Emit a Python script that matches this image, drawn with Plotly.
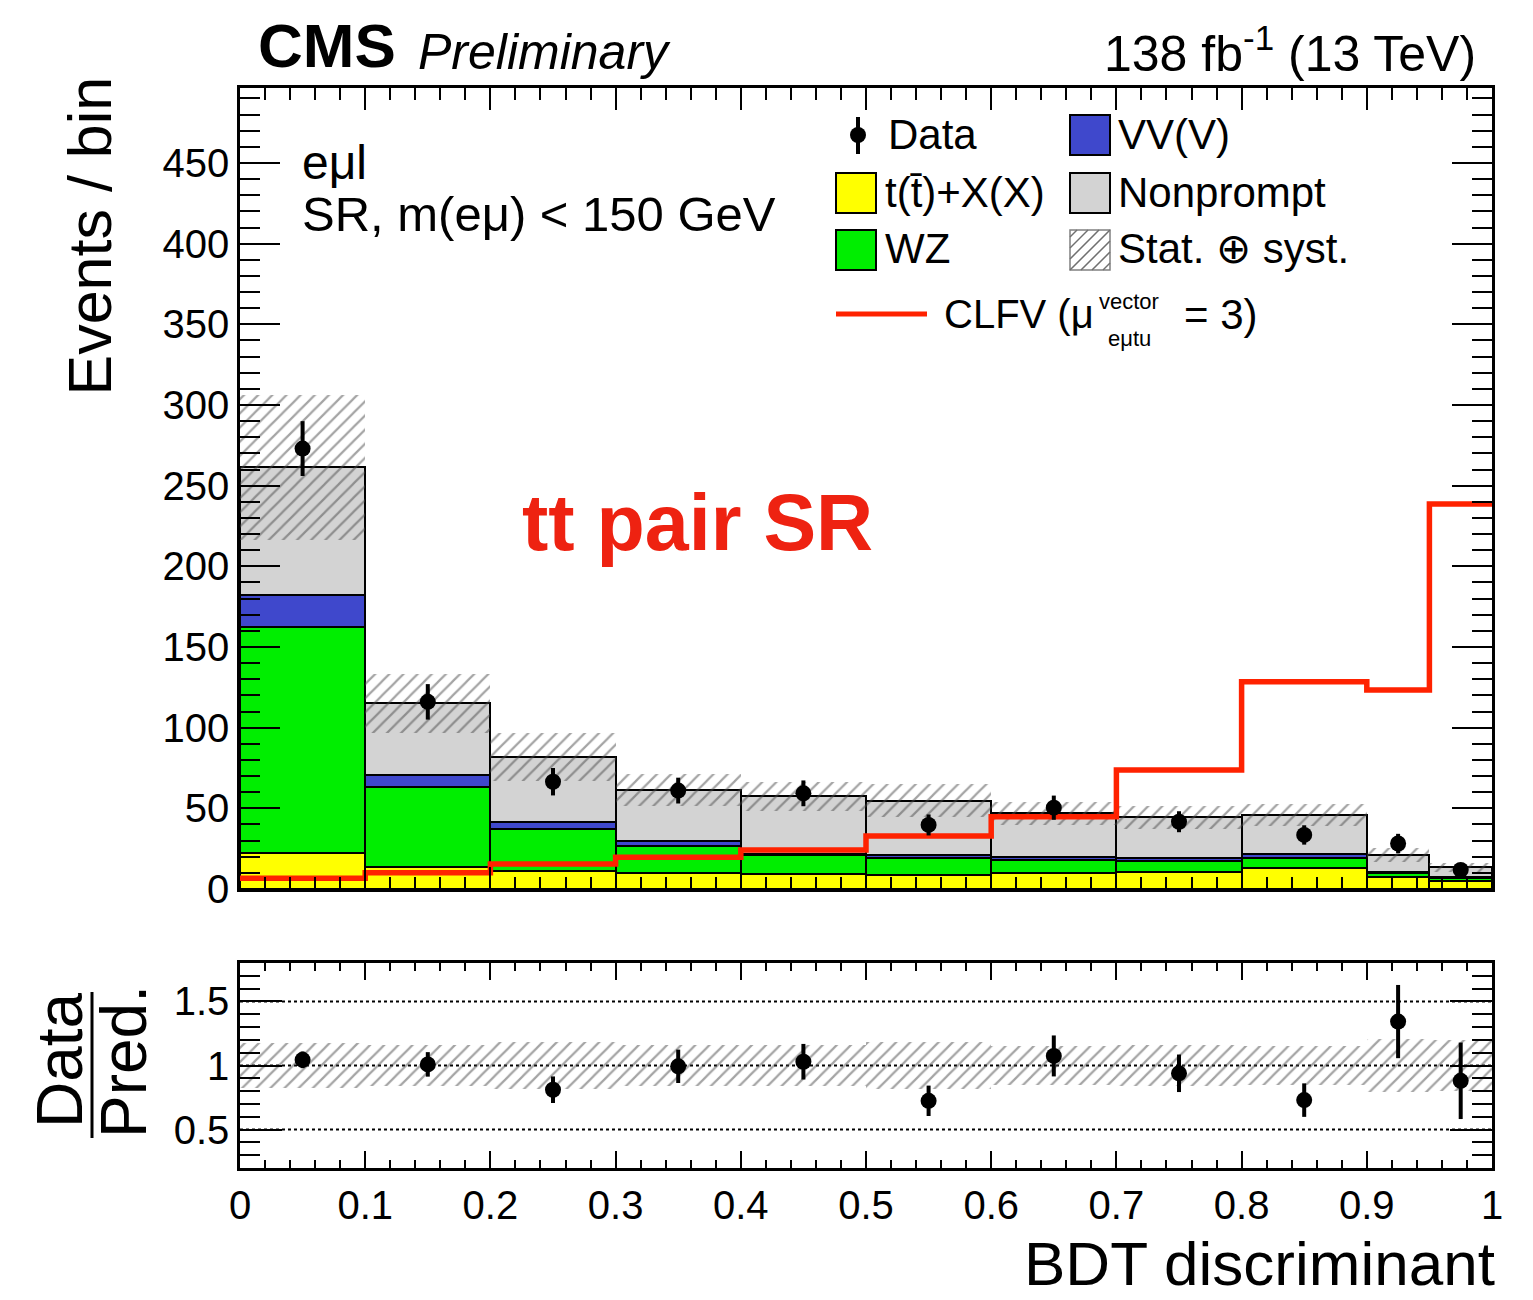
import numpy as np
import plotly.graph_objects as go

# ---------------- data ----------------
bin_edges = [0.0, 0.1, 0.2, 0.3, 0.4, 0.5, 0.6, 0.7, 0.8, 0.9, 0.95, 1.0]

ttx = [22.5, 13.8, 11.4, 9.7, 9.1, 8.7, 9.7, 10.3, 12.8, 7.6, 5.0]          # t(tbar)+X(X)
wz = [139.7, 49.2, 25.6, 17.0, 11.9, 10.3, 8.3, 7.3, 6.2, 2.1, 1.6]         # WZ
vvv = [20.1, 7.7, 4.7, 3.3, 1.0, 1.9, 1.6, 1.8, 2.7, 0.8, 0.6]              # VV(V)
nonprompt = [79.1, 44.3, 40.3, 31.4, 35.6, 33.9, 27.3, 25.0, 24.2, 10.5, 6.2]
unc = [45.0, 18.0, 15.0, 10.0, 9.0, 10.0, 7.0, 7.0, 7.0, 4.3, 2.7]          # stat (+) syst
data = [273.0, 116.0, 66.5, 61.0, 59.3, 39.7, 50.4, 41.7, 33.5, 28.2, 11.8]
data_err = [17.0, 11.0, 8.5, 8.0, 8.0, 6.5, 7.5, 6.5, 6.0, 6.0, 4.0]
clfv = [6.6, 10.1, 15.5, 19.7, 24.2, 32.9, 44.8, 73.8, 128.5, 123.4, 238.7]

# axis tick spacing (major, minor)
x_ticks = (0.1, 0.02)
y_ticks = (50, 10)
r_ticks = (0.5, 0.1)
r_lines = [0.5, 1.0, 1.5]

# ---------------- derived ----------------
edges = np.array(bin_edges)
centers = 0.5 * (edges[:-1] + edges[1:])
widths = np.diff(edges)

FONT = "Liberation Sans, Arial, Helvetica, sans-serif"
W, H = 1533, 1300
L, R, T, B = 240, 1492, 88, 1168          # plotting frame in pixels
RED = "#ff2200"
HATCH_COL = "#4a4a4a"


def px(x):
    return (x - L) / (R - L)


def py(y):
    return (B - y) / (B - T)


fig = go.Figure()

# stacked backgrounds
stack = [
    ("t(t̄)+X(X)", ttx, "#ffff00"),
    ("WZ", wz, "#00ee00"),
    ("VV(V)", vvv, "#3f48cc"),
    ("Nonprompt", nonprompt, "#d3d3d3"),
]
base = np.zeros(len(centers))
for name, vals, col in stack:
    vals = np.array(vals)
    fig.add_trace(go.Bar(
        x=centers, y=vals, base=base, width=widths, name=name,
        marker=dict(color=col, line=dict(color="black", width=2)),
        xaxis="x", yaxis="y", showlegend=False, hoverinfo="skip"))
    base = base + vals
total = base
unc_a = np.array(unc)

# uncertainty band on the total prediction
hatch = dict(shape="/", fgcolor=HATCH_COL, bgcolor="rgba(0,0,0,0)", size=10, solidity=0.22)
fig.add_trace(go.Bar(
    x=centers, y=2 * unc_a, base=total - unc_a, width=widths,
    marker=dict(color="rgba(0,0,0,0)", line=dict(width=0), pattern=hatch),
    xaxis="x", yaxis="y", showlegend=False, hoverinfo="skip"))

# CLFV signal
fig.add_trace(go.Scatter(
    x=edges, y=list(clfv) + [clfv[-1]], mode="lines",
    line=dict(color=RED, width=5.5, shape="hv"),
    xaxis="x", yaxis="y", showlegend=False, hoverinfo="skip"))

# data
fig.add_trace(go.Scatter(
    x=centers, y=data, mode="markers",
    marker=dict(color="black", size=16),
    error_y=dict(type="data", array=data_err, color="black", thickness=4, width=0),
    xaxis="x", yaxis="y", showlegend=False, hoverinfo="skip"))

# ratio panel
data_a = np.array(data)
ratio = data_a / total
ratio_err = np.array(data_err) / total
rel_unc = unc_a / total
fig.add_trace(go.Bar(
    x=centers, y=2 * rel_unc, base=1 - rel_unc, width=widths,
    marker=dict(color="rgba(0,0,0,0)", line=dict(width=0), pattern=hatch),
    xaxis="x2", yaxis="y2", showlegend=False, hoverinfo="skip"))
fig.add_trace(go.Scatter(
    x=centers, y=ratio, mode="markers",
    marker=dict(color="black", size=16),
    error_y=dict(type="data", array=ratio_err, color="black", thickness=4, width=0),
    xaxis="x2", yaxis="y2", showlegend=False, hoverinfo="skip"))

# ---------------- axes ----------------
main_dom = [py(889), 1.0]
ratio_dom = [0.0, py(963)]

common = dict(showline=True, linecolor="black", linewidth=2.5, mirror="ticks",
              ticks="inside", tickcolor="black", tickwidth=2,
              showgrid=False, zeroline=False, tickmode="linear", tick0=0,
              tickfont=dict(family=FONT, size=40, color="black"))


def minor(step, length):
    return dict(dtick=step, tick0=0, ticks="inside", ticklen=length,
                tickwidth=2, tickcolor="black", showgrid=False)


fig.update_layout(
    xaxis=dict(domain=[0, 1], range=[0, 1], anchor="y", dtick=x_ticks[0],
               showticklabels=False, ticklen=22, minor=minor(x_ticks[1], 12), **common),
    yaxis=dict(domain=main_dom, range=[0, 496.5], anchor="x", dtick=y_ticks[0],
               ticklen=40, ticklabelstandoff=0, minor=minor(y_ticks[1], 20), **common),
    xaxis2=dict(domain=[0, 1], range=[0, 1], anchor="y2", dtick=x_ticks[0],
                ticklen=17, ticklabelstandoff=0, minor=minor(x_ticks[1], 8), **common),
    yaxis2=dict(domain=ratio_dom, range=[0.2, 1.8], anchor="x2", dtick=r_ticks[0],
                ticklen=42, ticklabelstandoff=0, minor=minor(r_ticks[1], 20), **common),
    barmode="overlay", bargap=0,
    width=W, height=H,
    margin=dict(l=L, r=W - R, t=T, b=H - B, pad=0),
    paper_bgcolor="white", plot_bgcolor="white",
    font=dict(family=FONT, color="black"),
    showlegend=False,
)

# dotted reference lines in the ratio panel
for v in r_lines:
    fig.add_shape(type="line", xref="x2", yref="y2", x0=0, x1=1, y0=v, y1=v,
                  line=dict(color="black", width=2, dash="dot"), layer="below")

# ---------------- legend ----------------
shapes = []
for (x0, y0, col) in [(1070, 115, "#3f48cc"), (836, 173, "#ffff00"),
                      (1070, 173, "#d3d3d3"), (836, 230, "#00ee00")]:
    shapes.append(dict(type="rect", xref="paper", yref="paper",
                       x0=px(x0), x1=px(x0 + 40), y0=py(y0), y1=py(y0 + 40),
                       fillcolor=col, line=dict(color="black", width=2)))
shapes.append(dict(type="rect", xref="paper", yref="paper",
                   x0=px(1070), x1=px(1110), y0=py(230), y1=py(270),
                   fillcolor="rgba(0,0,0,0)", line=dict(color="#808080", width=1.5)))
shapes.append(dict(type="line", xref="paper", yref="paper",
                   x0=px(836), x1=px(927), y0=py(314), y1=py(314),
                   line=dict(color=RED, width=5)))
shapes.append(dict(type="line", xref="paper", yref="paper",
                   x0=px(858), x1=px(858), y0=py(117), y1=py(154),
                   line=dict(color="black", width=4)))
shapes.append(dict(type="circle", xref="paper", yref="paper",
                   x0=px(850), x1=px(866), y0=py(127), y1=py(143),
                   fillcolor="black", line=dict(color="black", width=0)))
# hatch strokes inside the uncertainty swatch
for k in range(-3, 4):
    d = k * 11
    xa, ya = 1070 + max(0, d), 270 - max(0, -d)
    xb, yb = 1110 - max(0, -d), 230 + max(0, d)
    shapes.append(dict(type="line", xref="paper", yref="paper",
                       x0=px(xa), y0=py(ya), x1=px(xb), y1=py(yb),
                       line=dict(color="#707070", width=1.5)))
# Data / Pred. fraction bar
shapes.append(dict(type="line", xref="paper", yref="paper",
                   x0=px(92), x1=px(92), y0=py(992), y1=py(1138),
                   line=dict(color="black", width=3)))
for s in shapes:
    fig.add_shape(**s)


def label(text, x, y, size, xanchor="left", yanchor="middle", angle=0, color="black"):
    fig.add_annotation(text=text, x=px(x), y=py(y), xref="paper", yref="paper",
                       xanchor=xanchor, yanchor=yanchor, textangle=angle,
                       showarrow=False, font=dict(family=FONT, size=size, color=color))


legend_size = 42
label("Data", 886, 134, legend_size)
label("VV(V)", 1116, 134, legend_size)
label("t(t̄)+X(X)", 883, 192, legend_size)
label("Nonprompt", 1116, 192, legend_size)
label("WZ", 883, 249, legend_size)
label("Stat. ⊕ syst.", 1116, 249, legend_size)
label("CLFV (μ", 942, 314, 40)
label("vector", 1097, 301, 22)
label("eμtu", 1106, 338, 22)
label("= 3)", 1182, 314, legend_size)

# headers and captions
label("<b>CMS</b>", 256, 46, 62)
label("<i>Preliminary</i>", 416, 52, 50)
label("138 fb<sup>-1</sup> (13 TeV)", 1478, 50, 50, xanchor="right")
label("eμl", 300, 162, 48)
label("SR, m(eμ) &lt; 150 GeV", 300, 214, 49)
label("<b>tt pair SR</b>", 697, 522, 79, xanchor="center", color="#ee2211")
label("BDT discriminant", 1497, 1300, 62, xanchor="right", yanchor="bottom")
label("Events / bin", 90, 75, 61, xanchor="center", yanchor="top", angle=-90)
label("Data", 60, 1060, 64, xanchor="center", angle=-90)
label("Pred.", 124, 1062, 64, xanchor="center", angle=-90)

fig.write_html("out.html")
